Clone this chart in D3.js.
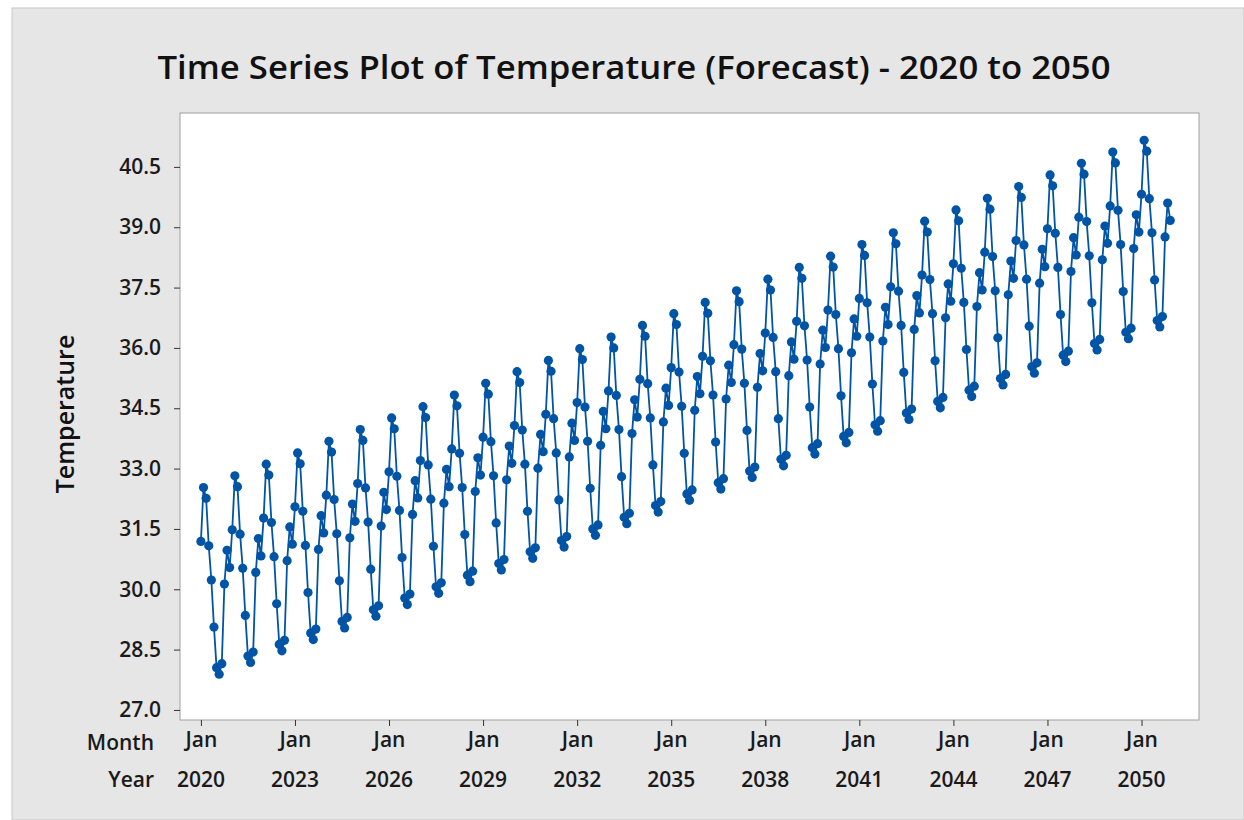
<!DOCTYPE html>
<html>
<head>
<meta charset="utf-8">
<script src="https://cdn.jsdelivr.net/npm/d3@7"></script>
<style>
  body { margin: 0; background: #ffffff; }
  svg { display: block; font-family: "Open Sans", "Noto Sans", sans-serif; }
</style>
</head>
<body>
<svg></svg>
<script>
    /* monthly forecast values, Jan..Dec for each year */
    let temps = [
        31.19, 32.53, 32.26, 31.08, 30.23, 29.06, 28.05, 27.89, 28.15, 30.13, 30.97, 30.54, // 2020
        31.48, 32.82, 32.55, 31.37, 30.52, 29.35, 28.34, 28.18, 28.44, 30.42, 31.26, 30.83, // 2021
        31.77, 33.11, 32.84, 31.66, 30.81, 29.64, 28.63, 28.47, 28.73, 30.71, 31.55, 31.12, // 2022
        32.05, 33.39, 33.12, 31.94, 31.09, 29.92, 28.91, 28.75, 29.01, 30.99, 31.83, 31.40, // 2023
        32.34, 33.68, 33.41, 32.23, 31.38, 30.21, 29.20, 29.04, 29.30, 31.28, 32.12, 31.69, // 2024
        32.63, 33.97, 33.70, 32.52, 31.67, 30.50, 29.49, 29.33, 29.59, 31.57, 32.41, 31.98, // 2025
        32.92, 34.26, 33.99, 32.81, 31.96, 30.79, 29.78, 29.62, 29.88, 31.86, 32.70, 32.27, // 2026
        33.20, 34.54, 34.27, 33.09, 32.24, 31.07, 30.06, 29.90, 30.16, 32.14, 32.98, 32.55, // 2027
        33.49, 34.83, 34.56, 33.38, 32.53, 31.36, 30.35, 30.19, 30.45, 32.43, 33.27, 32.84, // 2028
        33.78, 35.12, 34.85, 33.67, 32.82, 31.65, 30.64, 30.48, 30.74, 32.72, 33.56, 33.13, // 2029
        34.07, 35.41, 35.14, 33.96, 33.11, 31.94, 30.93, 30.77, 31.03, 33.01, 33.85, 33.42, // 2030
        34.35, 35.69, 35.42, 34.24, 33.39, 32.22, 31.21, 31.05, 31.31, 33.29, 34.13, 33.70, // 2031
        34.64, 35.98, 35.71, 34.53, 33.68, 32.51, 31.50, 31.34, 31.60, 33.58, 34.42, 33.99, // 2032
        34.93, 36.27, 36.00, 34.82, 33.97, 32.80, 31.79, 31.63, 31.89, 33.87, 34.71, 34.28, // 2033
        35.22, 36.56, 36.29, 35.11, 34.26, 33.09, 32.08, 31.92, 32.18, 34.16, 35.00, 34.57, // 2034
        35.51, 36.85, 36.58, 35.40, 34.55, 33.38, 32.37, 32.21, 32.47, 34.45, 35.29, 34.86, // 2035
        35.79, 37.13, 36.86, 35.68, 34.83, 33.66, 32.65, 32.49, 32.75, 34.73, 35.57, 35.14, // 2036
        36.08, 37.42, 37.15, 35.97, 35.12, 33.95, 32.94, 32.78, 33.04, 35.02, 35.86, 35.43, // 2037
        36.37, 37.71, 37.44, 36.26, 35.41, 34.24, 33.23, 33.07, 33.33, 35.31, 36.15, 35.72, // 2038
        36.66, 38.00, 37.73, 36.55, 35.70, 34.53, 33.52, 33.36, 33.62, 35.60, 36.44, 36.01, // 2039
        36.94, 38.28, 38.01, 36.83, 35.98, 34.81, 33.80, 33.64, 33.90, 35.88, 36.72, 36.29, // 2040
        37.23, 38.57, 38.30, 37.12, 36.27, 35.10, 34.09, 33.93, 34.19, 36.17, 37.01, 36.58, // 2041
        37.52, 38.86, 38.59, 37.41, 36.56, 35.39, 34.38, 34.22, 34.48, 36.46, 37.30, 36.87, // 2042
        37.81, 39.15, 38.88, 37.70, 36.85, 35.68, 34.67, 34.51, 34.77, 36.75, 37.59, 37.16, // 2043
        38.09, 39.43, 39.16, 37.98, 37.13, 35.96, 34.95, 34.79, 35.05, 37.03, 37.87, 37.44, // 2044
        38.38, 39.72, 39.45, 38.27, 37.42, 36.25, 35.24, 35.08, 35.34, 37.32, 38.16, 37.73, // 2045
        38.67, 40.01, 39.74, 38.56, 37.71, 36.54, 35.53, 35.37, 35.63, 37.61, 38.45, 38.02, // 2046
        38.96, 40.30, 40.03, 38.85, 38.00, 36.83, 35.82, 35.66, 35.92, 37.90, 38.74, 38.31, // 2047
        39.25, 40.59, 40.32, 39.14, 38.29, 37.12, 36.11, 35.95, 36.21, 38.19, 39.03, 38.60, // 2048
        39.53, 40.87, 40.60, 39.42, 38.57, 37.40, 36.39, 36.23, 36.49, 38.47, 39.31, 38.88, // 2049
        39.82, 41.16, 40.89, 39.71, 38.86, 37.69, 36.68, 36.52, 36.78, 38.76, 39.60, 39.17  // 2050
    ];
    let yTicks = [27.0, 28.5, 30.0, 31.5, 33.0, 34.5, 36.0, 37.5, 39.0, 40.5];
    let tickYears = [2020, 2023, 2026, 2029, 2032, 2035, 2038, 2041, 2044, 2047, 2050];
    let tickMonth = "Jan";
    let startYear = 2020;

    let width = 1244;
    let height = 820;
    let plot = {left: 180, top: 113, right: 1199, bottom: 720};
    let blue = "#0054a6";
    let labelSize = 21;

    const svg = d3.select("svg").attr("width", width).attr("height", height)

    // figure background
    svg.append("rect").attr("x", 12).attr("y", 8).attr("width", width - 12).attr("height", height - 8)
        .attr("fill", "#e6e6e6").attr("stroke", "#c8c8c8")
    svg.append("rect").attr("x", plot.left).attr("y", plot.top)
        .attr("width", plot.right - plot.left).attr("height", plot.bottom - plot.top)
        .attr("fill", "#ffffff").attr("stroke", "#a0a0a0")

    let xScale = d3.scaleLinear().domain([-8, 382]).range([plot.left, plot.right])
    let yScale = d3.scaleLinear().domain([26.75, 41.84]).range([plot.bottom, plot.top])

    // y axis
    let yAxis = d3.axisLeft(yScale).tickValues(yTicks).tickFormat(d3.format(".1f")).tickSize(6).tickSizeOuter(0)
    let gy = svg.append("g").attr("transform", "translate(" + plot.left + ",0)").call(yAxis)
    gy.select(".domain").remove()
    gy.selectAll("line").attr("stroke", "#333")
    gy.selectAll("text").attr("font-size", labelSize).attr("font-weight", 600).attr("fill", "#1a1a1a")
        .attr("font-family", "'Open Sans', sans-serif").attr("x", -19)

    // x axis, ticks every 3 years at January
    let tickIdx = tickYears.map((y) => (y - startYear) * 12)
    let xAxis = d3.axisBottom(xScale).tickValues(tickIdx).tickFormat(() => tickMonth).tickSize(6).tickSizeOuter(0)
    let gx = svg.append("g").attr("transform", "translate(0," + plot.bottom + ")").call(xAxis)
    gx.select(".domain").remove()
    gx.selectAll("line").attr("stroke", "#333")
    gx.selectAll("text").attr("font-size", labelSize).attr("font-weight", 600).attr("fill", "#1a1a1a")
        .attr("font-family", "'Open Sans', sans-serif").attr("y", 12)

    svg.append("g").selectAll("text").data(tickYears).enter().append("text")
        .attr("x", (d, i) => xScale(tickIdx[i])).attr("y", 787)
        .attr("text-anchor", "middle").attr("font-size", labelSize).attr("font-weight", 600).attr("fill", "#1a1a1a")
        .text((d) => d)

    svg.append("text").attr("x", 154).attr("y", 750).attr("text-anchor", "end")
        .attr("font-size", labelSize).attr("font-weight", 600).attr("fill", "#1a1a1a").text("Month")
    svg.append("text").attr("x", 154).attr("y", 787).attr("text-anchor", "end")
        .attr("font-size", labelSize).attr("font-weight", 600).attr("fill", "#1a1a1a").text("Year")

    // titles
    svg.append("text").attr("x", 634).attr("y", 79).attr("text-anchor", "middle")
        .attr("font-size", 33).attr("font-weight", 600).attr("fill", "#111")
        .attr("textLength", 953).attr("lengthAdjust", "spacingAndGlyphs")
        .text("Time Series Plot of Temperature (Forecast) - 2020 to 2050")
    svg.append("text").attr("transform", "translate(74,414) rotate(-90)").attr("text-anchor", "middle")
        .attr("font-size", 25).attr("font-weight", 600).attr("fill", "#111").text("Temperature")

    // series
    let line = d3.line().x((d, i) => xScale(i)).y((d) => yScale(d))
    svg.append("path").datum(temps).attr("d", line)
        .attr("fill", "none").attr("stroke", blue).attr("stroke-width", 1.8)
    svg.append("g").selectAll("circle").data(temps).enter().append("circle")
        .attr("cx", (d, i) => xScale(i)).attr("cy", (d) => yScale(d)).attr("r", 4.6)
        .attr("fill", blue)
</script>
</body>
</html>
